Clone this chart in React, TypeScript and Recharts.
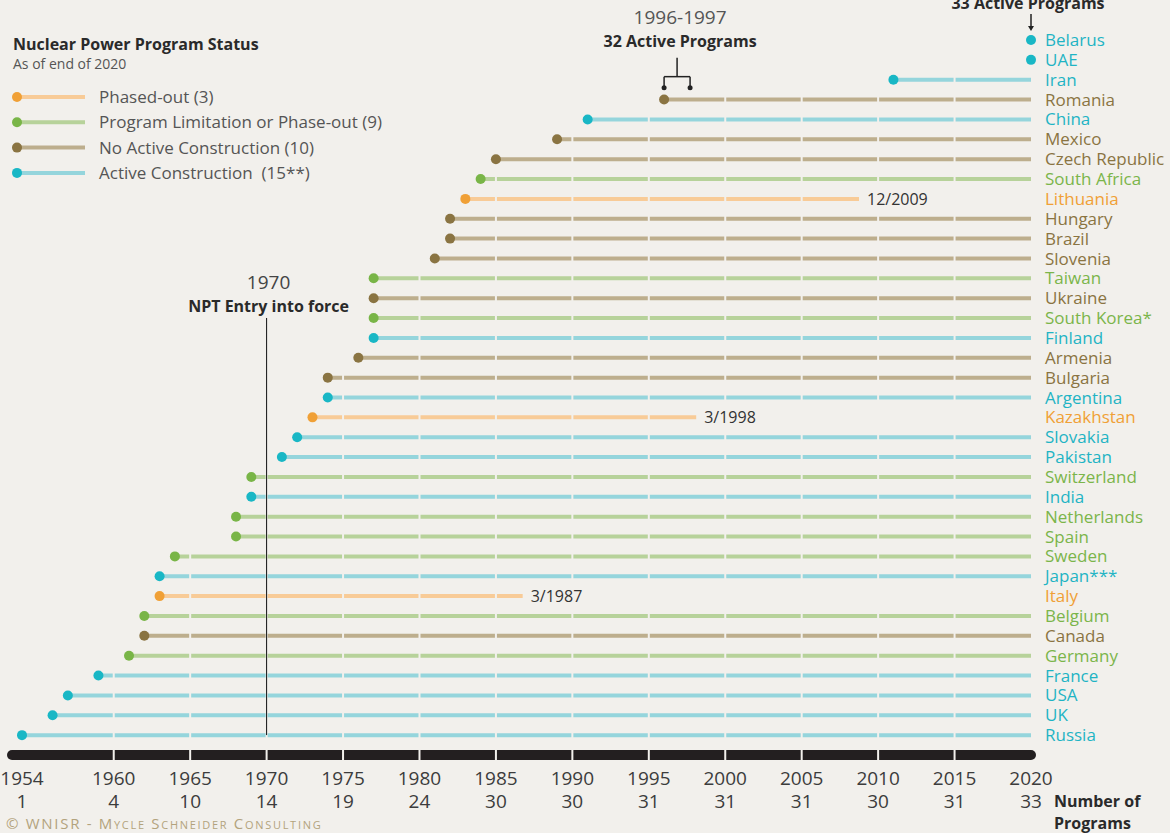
import React from "react";
import {
  BarChart,
  Bar,
  XAxis,
  YAxis,
  ReferenceLine,
  ReferenceDot,
} from "recharts";

// ---------- data ----------
const countries = [
  "Belarus", "UAE", "Iran", "Romania", "China", "Mexico", "Czech Republic",
  "South Africa", "Lithuania", "Hungary", "Brazil", "Slovenia", "Taiwan",
  "Ukraine", "South Korea*", "Finland", "Armenia", "Bulgaria", "Argentina",
  "Kazakhstan", "Slovakia", "Pakistan", "Switzerland", "India", "Netherlands",
  "Spain", "Sweden", "Japan***", "Italy", "Belgium", "Canada", "Germany",
  "France", "USA", "UK", "Russia",
];
const statuses = [
  "active", "active", "active", "noActive", "active", "noActive", "noActive",
  "limitation", "phased", "noActive", "noActive", "noActive", "limitation",
  "noActive", "limitation", "active", "noActive", "noActive", "active",
  "phased", "active", "active", "limitation", "active", "limitation",
  "limitation", "limitation", "active", "phased", "limitation", "noActive", "limitation",
  "active", "active", "active", "active",
];
const startYears = [
  2020, 2020, 2011, 1996, 1991, 1989, 1985,
  1984, 1983, 1982, 1982, 1981, 1977,
  1977, 1977, 1977, 1976, 1974, 1974,
  1973, 1972, 1971, 1969, 1969, 1968,
  1968, 1964, 1963, 1963, 1962, 1962, 1961,
  1959, 1957, 1956, 1954,
];
const endYears = [
  2020, 2020, 2020, 2020, 2020, 2020, 2020,
  2020, 2008.75, 2020, 2020, 2020, 2020,
  2020, 2020, 2020, 2020, 2020, 2020,
  1998.1, 2020, 2020, 2020, 2020, 2020,
  2020, 2020, 2020, 1986.75, 2020, 2020, 2020,
  2020, 2020, 2020, 2020,
];
const endLabels: Record<string, string> = {
  Lithuania: "12/2009",
  Kazakhstan: "3/1998",
  Italy: "3/1987",
};
const tickYears = [1954, 1960, 1965, 1970, 1975, 1980, 1985, 1990, 1995, 2000, 2005, 2010, 2015, 2020];
const programCounts = [1, 4, 10, 14, 19, 24, 30, 30, 31, 31, 31, 30, 31, 33];
const legendKeys = ["phased", "limitation", "noActive", "active"];
const legendLabels = [
  "Phased-out (3)",
  "Program Limitation or Phase-out (9)",
  "No Active Construction (10)",
  "Active Construction  (15**)",
];

// ---------- styles ----------
const BG = "#f2f0ec";
const COLORS: Record<string, { dot: string; line: string; text: string }> = {
  active: { dot: "#19b7c5", line: "#95d5dc", text: "#1fb4c4" },
  limitation: { dot: "#79b547", line: "#b7d29a", text: "#7bb54a" },
  noActive: { dot: "#8a7442", line: "#bdae8d", text: "#8a7442" },
  phased: { dot: "#f0a036", line: "#f8cb97", text: "#f0a036" },
};
const FONT = "'Open Sans', 'DejaVu Sans', sans-serif";

const data = countries.map((name, i) => ({
  name,
  status: statuses[i],
  start: startYears[i],
  end: endYears[i],
  endLabel: endLabels[name] || "",
}));
const statusByName: Record<string, string> = {};
data.forEach((d) => (statusByName[d.name] = d.status));

const gapYears = tickYears.slice(1, -1);

const Lollipop = (props: any) => {
  const { x, y, width, height, payload } = props;
  const c = COLORS[payload.status];
  const cy = y + height / 2;
  const span = payload.end - payload.start;
  const ppy = span > 0 ? width / span : 0;
  const gaps =
    span > 0
      ? gapYears
          .filter((t) => t > payload.start && t < payload.end)
          .map((t) => x + (t - payload.start) * ppy)
      : [];
  return (
    <g>
      {width > 0 && (
        <line x1={x} x2={x + width} y1={cy} y2={cy} stroke={c.line} strokeWidth={4} />
      )}
      {gaps.map((gx, i) => (
        <rect key={i} x={gx - 1} y={cy - 3} width={2} height={6} fill={BG} />
      ))}
      <circle cx={x} cy={cy} r={5} fill={c.dot} />
      {payload.endLabel && (
        <text x={x + width + 8} y={cy} dy="0.36em" fontSize={16} fill="#333" fontFamily={FONT}>
          {payload.endLabel}
        </text>
      )}
    </g>
  );
};

const YTick = (props: any) => {
  const { x, y, payload } = props;
  const st = statusByName[payload.value];
  return (
    <text x={x} y={y} dy="0.36em" textAnchor="start" fontSize={17} fill={COLORS[st].text} fontFamily={FONT}>
      {payload.value}
    </text>
  );
};

const XTick = (props: any) => {
  const { x, y, payload, index } = props;
  const showGap = gapYears.includes(payload.value);
  return (
    <g>
      {showGap && <rect x={x - 1} y={y - 6} width={2} height={12} fill={BG} />}
      <text x={x} y={y + 30} textAnchor="middle" fontSize={19} fill="#3c3c3c" fontFamily={FONT}>
        {payload.value}
      </text>
      <text x={x} y={y + 53} textAnchor="middle" fontSize={19} fill="#3c3c3c" fontFamily={FONT}>
        {programCounts[index]}
      </text>
    </g>
  );
};

const NptLabel = (props: any) => {
  const vb = props.viewBox || {};
  const cx = vb.x + 2;
  return (
    <g fontFamily={FONT}>
      <text x={cx} y={vb.y - 29} textAnchor="middle" fontSize={19} fill="#444">1970</text>
      <text x={cx} y={vb.y - 6} textAnchor="middle" fontSize={16} fontWeight={700} fill="#2a2a2a">
        NPT Entry into force
      </text>
    </g>
  );
};

const BracketLabel = (props: any) => {
  const vb = props.viewBox || {};
  const x1 = vb.x;
  const x2 = vb.x + vb.width;
  const y = vb.y - 3;
  const mid = (x1 + x2) / 2;
  return (
    <g fontFamily={FONT}>
      <line x1={x1} x2={x2} y1={y} y2={y} stroke="#222" strokeWidth={1.5} />
      <line x1={x1} x2={x1} y1={y} y2={y + 11} stroke="#222" strokeWidth={1.5} />
      <line x1={x2} x2={x2} y1={y} y2={y + 11} stroke="#222" strokeWidth={1.5} />
      <circle cx={x1} cy={y + 11} r={2.5} fill="#222" />
      <circle cx={x2} cy={y + 11} r={2.5} fill="#222" />
      <line x1={mid} x2={mid} y1={y} y2={y - 19} stroke="#222" strokeWidth={1.5} />
      <text x={mid + 3} y={y - 53} textAnchor="middle" fontSize={19} fill="#555">1996-1997</text>
      <text x={mid + 3} y={y - 30} textAnchor="middle" fontSize={16} fontWeight={700} fill="#2a2a2a">
        32 Active Programs
      </text>
    </g>
  );
};

const TopLabel = (props: any) => {
  const vb = props.viewBox || {};
  const cx = vb.x + (vb.width || 0) / 2;
  const cy = vb.y + (vb.height || 0) / 2;
  return (
    <g fontFamily={FONT}>
      <line x1={cx} x2={cx} y1={cy - 26} y2={cy - 13} stroke="#222" strokeWidth={1.5} />
      <path d={`M${cx - 3},${cy - 14} L${cx + 3},${cy - 14} L${cx},${cy - 9} Z`} fill="#222" />
      <text x={cx - 3} y={cy - 31} textAnchor="middle" fontSize={16} fontWeight={700} fill="#2a2a2a">
        33 Active Programs
      </text>
    </g>
  );
};

export default function App() {
  return (
    <div style={{ width: 1170, height: 833, background: BG, fontFamily: FONT, position: "relative" }}>
      <style>{`body{margin:0;background:${BG};}`}</style>
      <BarChart
        width={1170}
        height={833}
        data={data}
        layout="vertical"
        margin={{ top: 30, right: 0, bottom: 0, left: 12 }}
        barCategoryGap={2}
      >
        <XAxis
          type="number"
          domain={[1954, 2020]}
          ticks={tickYears}
          interval={0}
          padding={{ left: 10, right: 0 }}
          height={78}
          axisLine={{ stroke: "#231f20", strokeWidth: 10, strokeLinecap: "round" }}
          tickLine={false}
          tickSize={0}
          tickMargin={0}
          tick={XTick}
        />
        <YAxis
          type="category"
          dataKey="name"
          orientation="right"
          width={139}
          axisLine={false}
          tickLine={false}
          tickSize={0}
          tickMargin={14}
          interval={0}
          padding={{ top: 0, bottom: 10 }}
          tick={YTick}
        />
        <Bar
          dataKey={(d: any) => [d.start, d.end]}
          shape={Lollipop}
          isAnimationActive={false}
        />
        <ReferenceLine
          segment={[{ x: 1970, y: "South Korea*" }, { x: 1970, y: "Russia" }]}
          stroke="#111"
          strokeWidth={1}
          label={<NptLabel />}
        />
        <ReferenceLine
          segment={[{ x: 1996, y: "Iran" }, { x: 1997.7, y: "Iran" }]}
          stroke="none"
          strokeWidth={0}
          label={<BracketLabel />}
        />
        <ReferenceDot x={2020} y="Belarus" r={0} fill="none" stroke="none" label={<TopLabel />} />
        {/* legend */}
        <g fontFamily={FONT}>
          <text x={13} y={50} fontSize={16} fontWeight={700} fill="#2a2a2a">
            Nuclear Power Program Status
          </text>
          <text x={13} y={69} fontSize={14} fill="#555">
            As of end of 2020
          </text>
          {legendKeys.map((k, i) => {
            const cy = 97 + i * 25.3;
            return (
              <g key={k}>
                <line x1={17} x2={85} y1={cy} y2={cy} stroke={COLORS[k].line} strokeWidth={4} />
                <circle cx={17} cy={cy} r={5} fill={COLORS[k].dot} />
                <text x={99} y={cy} dy="0.36em" fontSize={17} fill="#555" style={{ whiteSpace: "pre" }}>
                  {legendLabels[i]}
                </text>
              </g>
            );
          })}
          <text x={1054} y={807} fontSize={16} fontWeight={700} fill="#2a2a2a">Number of</text>
          <text x={1054} y={829} fontSize={16} fontWeight={700} fill="#2a2a2a">Programs</text>
          <text
            x={6}
            y={829}
            fontSize={15}
            fill="#b3a37d"
            letterSpacing={1.7}
            style={{ fontVariant: "small-caps" }}
          >
            © WNISR - Mycle Schneider Consulting
          </text>
        </g>
      </BarChart>
    </div>
  );
}
